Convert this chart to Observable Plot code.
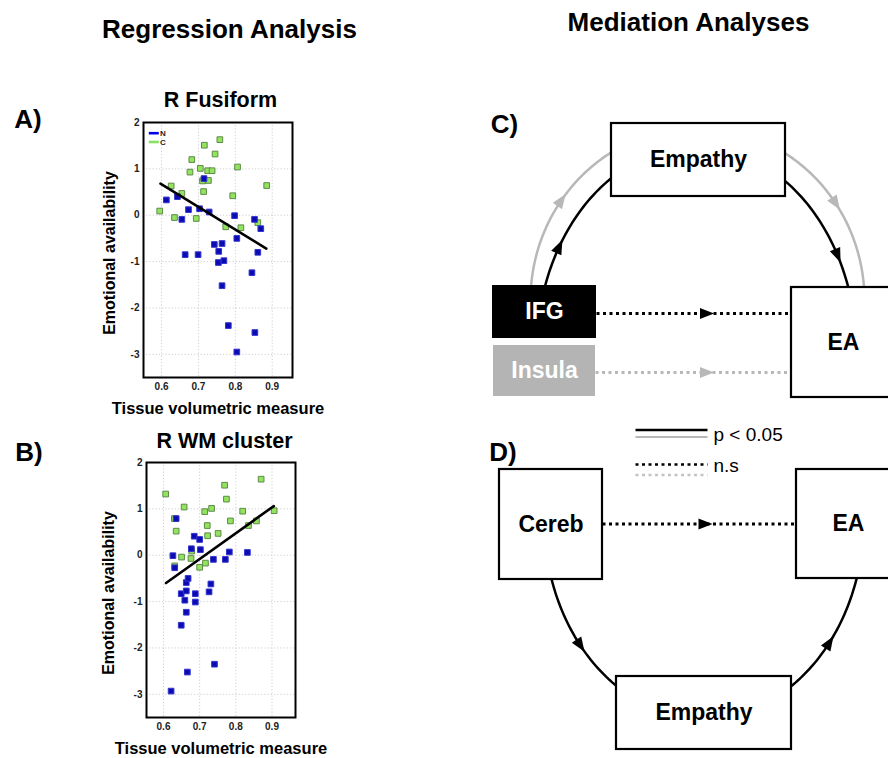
<!DOCTYPE html>
<html><head><meta charset="utf-8">
<script src="https://cdn.jsdelivr.net/npm/d3@7"></script>
<script src="https://cdn.jsdelivr.net/npm/@observablehq/plot@0.6"></script>
<style>
html,body{margin:0;padding:0;background:#fff;overflow:hidden;}
#page{position:relative;width:888px;height:758px;overflow:hidden;}
#page > div{position:absolute;}
svg{max-width:none !important;}
</style></head>
<body><div id="page"><div id="diag" style="left:0;top:0"></div><div id="pa"></div><div id="pb"></div></div>
<script>
const FONT = "'Liberation Sans', Arial, Helvetica, sans-serif";

// ---------------- data ----------------
const xTicks = [0.6, 0.7, 0.8, 0.9];
const yTicks = [-3, -2, -1, 0, 1, 2];
const groupNames = ["N", "C"];

// A) R Fusiform
const fusiformC_x = [0.595,0.626,0.635,0.655,0.677,0.682,0.694,0.705,0.711,0.714,0.716,0.725,0.727,0.737,0.745,0.758,0.774,0.793,0.806,0.815,0.861,0.885];
const fusiformC_y = [0.09,0.63,-0.05,0.47,0.93,1.20,-0.07,1.01,0.74,0.51,1.51,0.96,0.75,0.96,1.32,1.63,-0.25,0.42,1.04,-0.27,-0.16,0.64];
const fusiformN_x = [0.613,0.643,0.655,0.664,0.673,0.699,0.703,0.715,0.729,0.743,0.754,0.755,0.764,0.764,0.769,0.781,0.798,0.804,0.804,0.845,0.852,0.853,0.861,0.869];
const fusiformN_y = [0.33,0.40,-0.09,-0.85,0.12,-0.85,0.14,0.79,0.07,-0.63,-1.02,-0.78,-0.61,-1.52,-0.98,-2.38,-0.01,-0.50,-2.95,-1.24,-0.09,-2.53,-0.80,-0.29];
const fusiformFit_x = [0.597, 0.884];
const fusiformFit_y = [0.68, -0.72];

// B) R WM cluster
const wmC_x = [0.606,0.630,0.635,0.631,0.650,0.657,0.676,0.678,0.700,0.714,0.716,0.721,0.722,0.733,0.751,0.769,0.774,0.785,0.819,0.835,0.857,0.870,0.906];
const wmC_y = [1.32,0.79,0.52,-0.23,-0.04,1.04,-0.07,0.09,-0.26,0.94,-0.17,0.64,0.42,1.01,0.47,1.51,1.21,0.74,0.95,0.64,0.74,1.64,0.96];
const wmN_x = [0.626,0.631,0.635,0.621,0.649,0.649,0.659,0.663,0.663,0.663,0.668,0.666,0.677,0.685,0.688,0.688,0.700,0.702,0.731,0.726,0.738,0.741,0.771,0.782,0.832];
const wmN_y = [-0.01,-0.27,0.79,-2.93,-0.83,-1.51,-0.97,-0.59,-0.77,-1.23,-0.50,-2.52,0.14,0.41,-0.83,-1.01,0.34,0.12,-0.62,-0.79,-0.09,-2.35,-0.09,0.07,0.06];
const wmFit_x = [0.607, 0.905];
const wmFit_y = [-0.60, 1.06];

// Mediation diagrams
const panelC_nodes = ["Empathy", "IFG", "Insula", "EA"];
const panelD_nodes = ["Cereb", "EA", "Empathy"];
const legendLabels = ["p < 0.05", "n.s"];

// ---------------- layout (pixels) ----------------
const L = {
  boxes: [
    {label: panelC_nodes[0], x1: 611, y1: 123, x2: 785, y2: 196, fill: "white", stroke: "black", text: "black"},
    {label: panelC_nodes[1], x1: 492, y1: 285, x2: 596, y2: 338, fill: "black", stroke: "none", text: "white"},
    {label: panelC_nodes[2], x1: 493, y1: 345, x2: 595, y2: 396, fill: "#b4b4b4", stroke: "none", text: "white"},
    {label: panelC_nodes[3], x1: 791, y1: 287, x2: 896, y2: 397, fill: "white", stroke: "black", text: "black", tx: 843},
    {label: panelD_nodes[0], x1: 499, y1: 469, x2: 602, y2: 579, fill: "white", stroke: "black", text: "black"},
    {label: panelD_nodes[1], x1: 796, y1: 469, x2: 896, y2: 578, fill: "white", stroke: "black", text: "black", tx: 848},
    {label: panelD_nodes[2], x1: 616, y1: 676, x2: 791, y2: 749, fill: "white", stroke: "black", text: "black"}
  ],
  ellipses: [
    {id: "Cgray", cx: 697, cy: 300, a: 167, b: 173, t0: 178, t1: 2, color: "#b8b8b8", heads: [144.5, 34]},
    {id: "Cblack", cx: 696, cy: 352, a: 160, b: 206, t0: 163, t1: 17, color: "black", heads: [149, 28]},
    {id: "Dblack", cx: 703.5, cy: 518, a: 160, b: 200, t0: -165, t1: -15, color: "black", heads: [-140.5, -38.3]}
  ],
  dotted: [
    {x1: 596, x2: 791, y: 313, hx: 706.5, color: "black"},
    {x1: 595, x2: 791, y: 372, hx: 706.5, color: "#b8b8b8"},
    {x1: 602, x2: 796, y: 523.5, hx: 705, color: "black"}
  ],
  legend: {x1: 635, x2: 707, tx: 713, solid: [429.5, 436.5], dots: [464, 474.5], text: [434, 465.5]}
};

// ellipse arc sampling (geometry of the connector curves)
function arcPoints(e) {
  const n = 120, pts = [];
  for (let i = 0; i <= n; i++) {
    const t = (e.t0 + (e.t1 - e.t0) * i / n) * Math.PI / 180;
    pts.push({id: e.id, x: e.cx + e.a * Math.cos(t), y: e.cy - e.b * Math.sin(t)});
  }
  return pts;
}
function headPoint(e, deg) {
  const t = deg * Math.PI / 180;
  const s = e.t1 > e.t0 ? 1 : -1;
  const dx = -s * e.a * Math.sin(t), dy = -s * e.b * Math.cos(t);
  return {x: e.cx + e.a * Math.cos(t), y: e.cy - e.b * Math.sin(t), angle: Math.atan2(dy, dx) * 180 / Math.PI, color: e.color};
}
const arrowHead = {draw(ctx, size) { const r = Math.sqrt(size / Math.PI); ctx.moveTo(1.3 * r, 0); ctx.lineTo(-1.3 * r, r); ctx.lineTo(-1.3 * r, -r); ctx.closePath(); }};
const legendBar = {draw(ctx) { ctx.rect(-5, -1.3, 10, 2.6); }};

// ---------------- diagram + page text ----------------
const W = 888, H = 758;
const arcs = L.ellipses.flatMap(arcPoints);
const heads = L.ellipses.flatMap(e => e.heads.map(h => headPoint(e, h)));
const straightHeads = L.dotted.map(d => ({x: d.hx, y: d.y, angle: 0, color: d.color}));
const legendSolid = [{y: L.legend.solid[0], c: "black", w: 2.6}, {y: L.legend.solid[1], c: "#b8b8b8", w: 2.2}];
const legendDots = [{y: L.legend.dots[0], c: "black"}, {y: L.legend.dots[1], c: "#c4c4c4"}];

const headings = [
  {t: "Regression Analysis", x: 229, y: 29, s: 26},
  {t: "Mediation Analyses", x: 688, y: 22, s: 26},
  {t: "A)", x: 27.5, y: 119, s: 26},
  {t: "B)", x: 28.5, y: 452, s: 26},
  {t: "C)", x: 504, y: 124, s: 26},
  {t: "D)", x: 502.5, y: 452, s: 26}
];

const diag = Plot.plot({
  width: W, height: H, margin: 0,
  style: {fontFamily: FONT, background: "transparent"},
  x: {domain: [0, W], range: [0, W], axis: null},
  y: {domain: [0, H], range: [0, H], axis: null},
  marks: [
    Plot.line(arcs, {x: "x", y: "y", z: "id", stroke: d => L.ellipses.find(e => e.id === d.id).color, strokeWidth: 2.5}),
    Plot.link(L.dotted, {x1: "x1", x2: "x2", y1: "y", y2: "y", stroke: "color", strokeWidth: 3, strokeDasharray: "3,3.5"}),
    Plot.link(legendSolid, {x1: L.legend.x1, x2: L.legend.x2, y1: "y", y2: "y", stroke: "c", strokeWidth: "w"}),
    Plot.link(legendDots, {x1: L.legend.x1, x2: L.legend.x2, y1: "y", y2: "y", stroke: "c", strokeWidth: 2.6, strokeDasharray: "3,3.5"}),
    Plot.rect(L.boxes, {x1: "x1", x2: "x2", y1: "y1", y2: "y2", fill: "fill", stroke: "stroke", strokeWidth: 2.2}),
    Plot.dot(heads, {x: "x", y: "y", rotate: "angle", symbol: arrowHead, r: 5.6, fill: "color", stroke: "none"}),
    Plot.dot(straightHeads, {x: "x", y: "y", rotate: "angle", symbol: arrowHead, r: 5.4, fill: "color", stroke: "none"}),
    Plot.text(L.boxes, {x: d => d.tx ?? (d.x1 + d.x2) / 2, y: d => (d.y1 + d.y2) / 2, text: "label", fill: "text", fontSize: 23, fontWeight: "bold"}),
    Plot.text(headings, {x: "x", y: "y", text: "t", fontSize: "s", fontWeight: "bold", fill: "black"}),
    Plot.text(legendLabels, {x: L.legend.tx, y: (d, i) => L.legend.text[i], text: d => d, textAnchor: "start", fontSize: 19, fill: "black"})
  ]
});
document.getElementById("diag").append(diag);

// ---------------- scatter plots ----------------
function scatter(el, o) {
  const mL = 48, mT = 37, mR = 8, mB = 43, fw = 149, fh = 255;
  const holder = document.getElementById(el);
  holder.style.left = (o.left - mL) + "px";
  holder.style.top = (o.top - mT) + "px";
  const C = o.cx.map((x, i) => ({x, y: o.cy[i]}));
  const N = o.nx.map((x, i) => ({x, y: o.ny[i]}));
  const fit = o.fx.map((x, i) => ({x, y: o.fy[i]}));
  const legendMarks = o.legend ? [
    Plot.dot([groupNames[0]], {frameAnchor: "top-left", dx: 10.3, dy: 10.7, symbol: legendBar, r: 1, fill: "#0000ee", stroke: "none"}),
    Plot.dot([groupNames[1]], {frameAnchor: "top-left", dx: 10.3, dy: 19.5, symbol: legendBar, r: 1, fill: "#88e060", stroke: "none"}),
    Plot.text([groupNames[0]], {frameAnchor: "top-left", dx: 16.5, dy: 10.7, text: d => d, textAnchor: "start", lineAnchor: "middle", fontSize: 8, fontWeight: "bold", fill: "#222"}),
    Plot.text([groupNames[1]], {frameAnchor: "top-left", dx: 16.5, dy: 19.5, text: d => d, textAnchor: "start", lineAnchor: "middle", fontSize: 8, fontWeight: "bold", fill: "#222"})
  ] : [];
  const p = Plot.plot({
    width: mL + fw + mR, height: mT + fh + mB,
    marginLeft: mL, marginTop: mT, marginRight: mR, marginBottom: mB,
    style: {fontFamily: FONT, background: "transparent", overflow: "visible"},
    x: {domain: o.xDomain, axis: null},
    y: {domain: [-3.5, 2], axis: null},
    marks: [
      Plot.gridX(xTicks, {stroke: "#cfcfcf", strokeOpacity: 1, strokeDasharray: "1.2,2"}),
      Plot.gridY(yTicks, {stroke: "#cfcfcf", strokeOpacity: 1, strokeDasharray: "1.2,2"}),
      Plot.dot(C, {x: "x", y: "y", symbol: "square", r: 3.2, fill: "#92e35e", stroke: "#5e8a48", strokeWidth: 1}),
      Plot.dot(N, {x: "x", y: "y", symbol: "square", r: 3.2, fill: "#0b0bb4", stroke: "#3535cf", strokeWidth: 1}),
      Plot.line(fit, {x: "x", y: "y", stroke: "black", strokeWidth: 2.6}),
      Plot.frame({stroke: "black", strokeWidth: 2}),
      Plot.axisX(xTicks, {anchor: "bottom", tickSize: 0, tickPadding: 5, fontSize: 10, fontWeight: "bold", fill: "#222", tickFormat: d => d.toFixed(1), label: null}),
      Plot.axisY(yTicks, {anchor: "left", tickSize: 0, tickPadding: 4, fontSize: 10, fontWeight: "bold", fill: "#222", tickFormat: d => String(d), label: null}),
      ...legendMarks,
      Plot.text([o.title], {frameAnchor: "top", dx: o.titleDx, dy: o.titleDy, text: d => d, textAnchor: "middle", lineAnchor: "middle", fontSize: 21.5, fontWeight: "bold", fill: "black"}),
      Plot.text(["Tissue volumetric measure"], {frameAnchor: "bottom", dy: 31, text: d => d, textAnchor: "middle", lineAnchor: "middle", fontSize: 16.5, fontWeight: "bold", fill: "black"}),
      Plot.text(["Emotional availability"], {frameAnchor: "left", dx: o.ylabDx, dy: 3, rotate: -90, text: d => d, textAnchor: "middle", lineAnchor: "middle", fontSize: 16, fontWeight: "bold", fill: "black"})
    ]
  });
  holder.append(p);
}

scatter("pa", {left: 143, top: 122, xDomain: [0.551, 0.955], title: "R Fusiform", titleDx: 2.5, titleDy: -22.5, ylabDx: -34, legend: true,
  cx: fusiformC_x, cy: fusiformC_y, nx: fusiformN_x, ny: fusiformN_y, fx: fusiformFit_x, fy: fusiformFit_y});
scatter("pb", {left: 146, top: 462, xDomain: [0.553, 0.965], title: "R WM cluster", titleDx: 3.5, titleDy: -21, ylabDx: -38, legend: false,
  cx: wmC_x, cy: wmC_y, nx: wmN_x, ny: wmN_y, fx: wmFit_x, fy: wmFit_y});
</script></body></html>
